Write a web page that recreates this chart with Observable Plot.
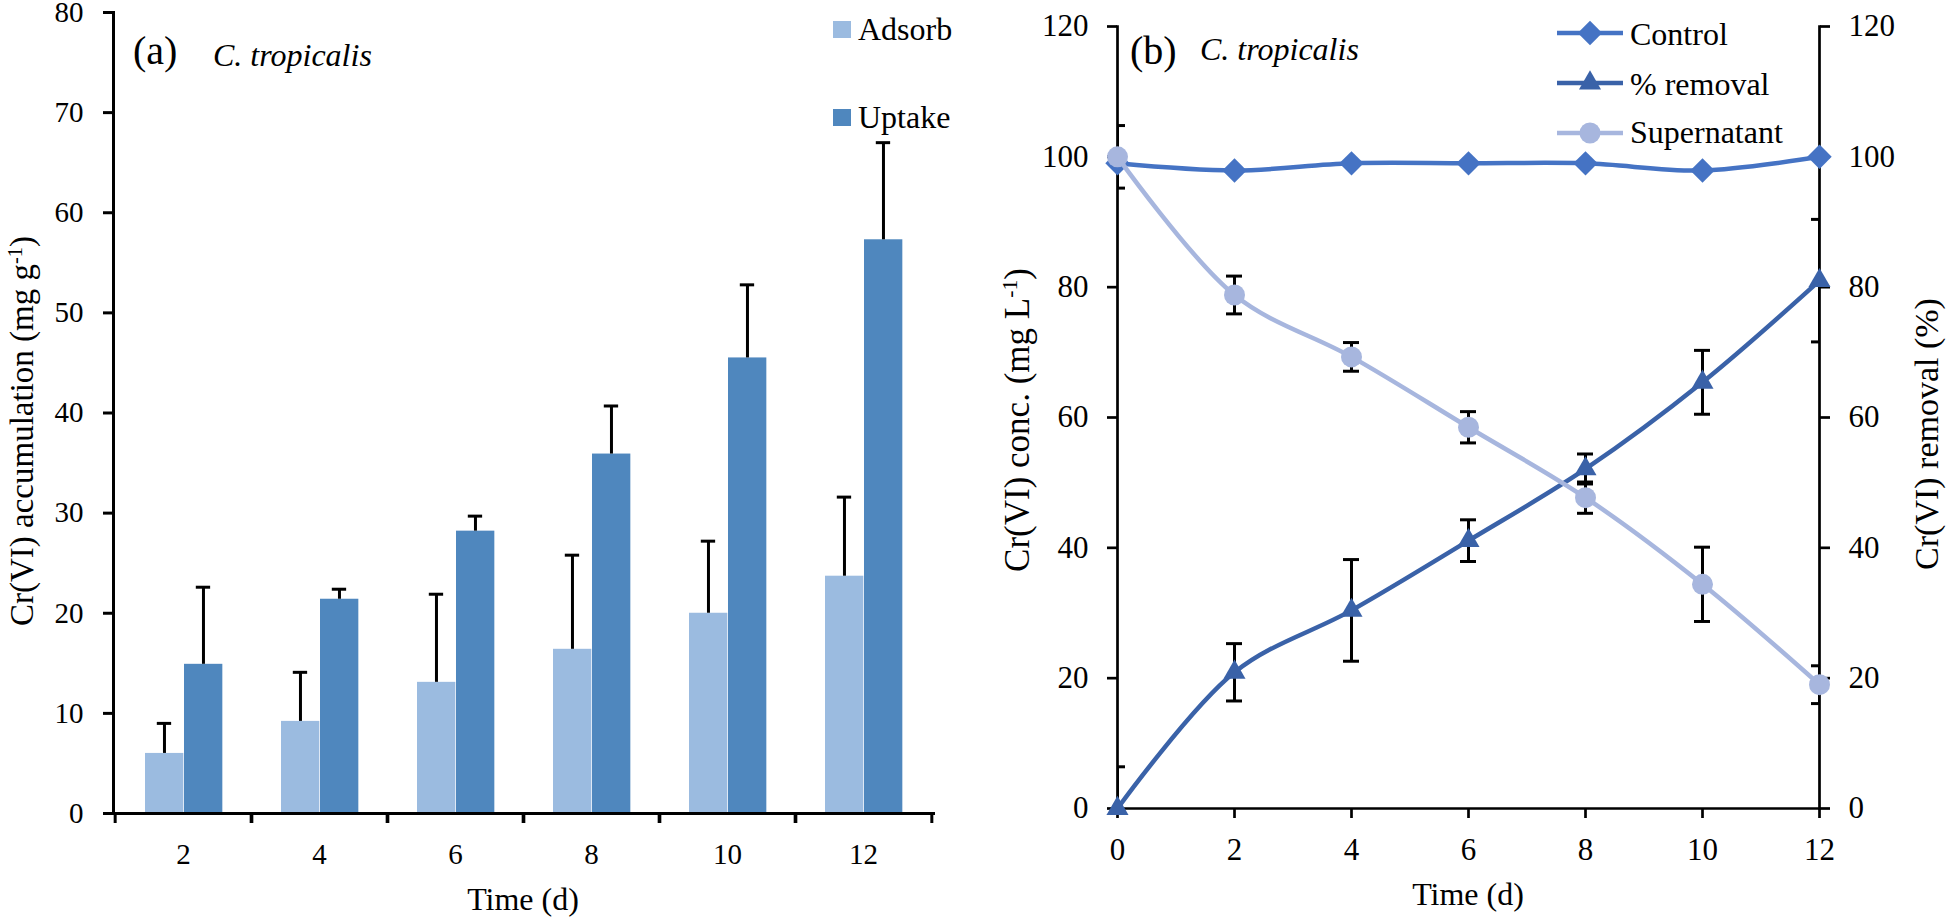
<!DOCTYPE html>
<html><head><meta charset="utf-8">
<script src="https://cdn.jsdelivr.net/npm/d3@7"></script>
<script src="https://cdn.jsdelivr.net/npm/@observablehq/plot@0.6"></script>
<style>
body{margin:0;background:#fff;}
#wrap{position:relative;width:1946px;height:919px;font-family:"Liberation Serif","Times New Roman",serif;}
#wrap svg{position:absolute;top:0;}
</style></head><body><div id="wrap"></div>
<script>
// ---- Panel (a) data ----
const days = [2, 4, 6, 8, 10, 12];
const adsorb = [6.0, 9.2, 13.1, 16.4, 20.0, 23.7];
const adsorbErr = [3.0, 4.9, 8.8, 9.4, 7.2, 7.9];
const uptake = [14.9, 21.4, 28.2, 35.9, 45.5, 57.3];
const uptakeErr = [7.7, 1.0, 1.5, 4.8, 7.3, 9.7];
const yTicksA = [0, 10, 20, 30, 40, 50, 60, 70, 80];

// ---- Panel (b) data ----
const times = [0, 2, 4, 6, 8, 10, 12];
const control = [99.0, 97.9, 99.0, 99.0, 99.0, 97.9, 100.0];
const supernatant = [100.0, 78.8, 69.3, 58.5, 47.7, 34.4, 19.0];
const supernatantErr = [4.8, 2.9, 2.2, 2.4, 2.4, 5.7, 2.9];
const removal = [0, 20.9, 30.4, 41.1, 52.1, 65.4, 81.0];
const removalErr = [6.4, 4.4, 7.8, 3.2, 2.3, 4.9, 9.4];
const xTicksB = [0, 2, 4, 6, 8, 10, 12];
const yTicksB = [0, 20, 40, 60, 80, 100, 120];

const C_ADS = "#9bbbe0", C_UPT = "#4f87be";
const C_CTRL = "#4573c4", C_REM = "#3a62a8", C_SUP = "#a7b6de";
const FONT = "Liberation Serif, Times New Roman, serif";

const wrap = document.getElementById("wrap");

// ---------- Panel (a) ----------
const aRows = days.map((d, i) => ({day: d, adsorb: adsorb[i], adsorbErr: adsorbErr[i], uptake: uptake[i], uptakeErr: uptakeErr[i]}));
const WA = 990, mlA = 113, mrA = 57;
const bw = (WA - mlA - mrA) / days.length;
const half = bw / 2;
const plotA = Plot.plot({
  width: WA, height: 919,
  marginLeft: mlA, marginRight: mrA, marginTop: 12, marginBottom: 106,
  style: {fontFamily: FONT, fontSize: "29px", color: "#000", background: "transparent", overflow: "visible"},
  x: {type: "band", domain: days, padding: 0, label: null},
  y: {domain: [0, 80], label: null},
  marks: [
    Plot.barY(aRows, {x: "day", y: "adsorb", fill: C_ADS, insetLeft: 30, insetRight: bw - 69}),
    Plot.barY(aRows, {x: "day", y: "uptake", fill: C_UPT, insetLeft: 69, insetRight: bw - 108}),
    Plot.ruleX(aRows, {x: "day", y1: "adsorb", y2: d => d.adsorb + d.adsorbErr, dx: 49.3 - half, stroke: "#000", strokeWidth: 3}),
    Plot.tickY(aRows, {x: "day", y: d => d.adsorb + d.adsorbErr, insetLeft: 49.3 - 7.5, insetRight: bw - 49.3 - 7.5, stroke: "#000", strokeWidth: 3}),
    Plot.ruleX(aRows, {x: "day", y1: "uptake", y2: d => d.uptake + d.uptakeErr, dx: 88.3 - half, stroke: "#000", strokeWidth: 3}),
    Plot.tickY(aRows, {x: "day", y: d => d.uptake + d.uptakeErr, insetLeft: 88.3 - 7.5, insetRight: bw - 88.3 - 7.5, stroke: "#000", strokeWidth: 3}),
    Plot.frame({anchor: "left", strokeWidth: 3}),
    Plot.frame({anchor: "bottom", strokeWidth: 3}),
    Plot.axisY({ticks: yTicksA, tickSize: 10, tickPadding: 20, strokeWidth: 3, label: null}),
    Plot.axisX({tickSize: 10, tickFormat: () => "", dx: -half, strokeWidth: 3, label: null}),
    Plot.axisX({tickSize: 10, tickFormat: () => "", dx: half, strokeWidth: 3, label: null}),
    Plot.axisX({tickSize: 0, tickPadding: 30, label: null})
  ]
});
plotA.style.left = "0px";
wrap.appendChild(plotA);

// ---------- Panel (b) ----------
const bRows = times.map((t, i) => ({t, control: control[i], sup: supernatant[i], supErr: supernatantErr[i], rem: removal[i], remErr: removalErr[i]}));
const plotB = Plot.plot({
  width: 956, height: 919,
  marginLeft: 127, marginRight: 127, marginTop: 26, marginBottom: 111,
  style: {fontFamily: FONT, fontSize: "31px", color: "#000", background: "transparent", overflow: "visible"},
  x: {domain: [0, 12], label: null},
  y: {domain: [0, 120], label: null},
  marks: [
    Plot.frame({anchor: "left", strokeWidth: 2.7}),
    Plot.frame({anchor: "right", strokeWidth: 2.7}),
    Plot.frame({anchor: "bottom", strokeWidth: 2.7}),
    Plot.axisX({ticks: xTicksB, tickSize: 10, tickPadding: 19, strokeWidth: 2.7, label: null}),
    Plot.axisY({anchor: "left", ticks: yTicksB, tickSize: 10, tickPadding: 19, strokeWidth: 2.7, label: null}),
    Plot.axisY({anchor: "right", ticks: yTicksB, tickSize: 10, tickPadding: 19, strokeWidth: 2.7, label: null}),
    // error bars
    Plot.ruleX(bRows, {x: "t", y1: d => d.rem - d.remErr, y2: d => d.rem + d.remErr, stroke: "#000", strokeWidth: 3, clip: true}),
    Plot.ruleY(bRows, {x1: "t", x2: "t", y: d => d.rem - d.remErr, insetLeft: -8, insetRight: -8, stroke: "#000", strokeWidth: 3, clip: true}),
    Plot.ruleY(bRows, {x1: "t", x2: "t", y: d => d.rem + d.remErr, insetLeft: -8, insetRight: -8, stroke: "#000", strokeWidth: 3, clip: true}),
    Plot.ruleX(bRows, {x: "t", y1: d => d.sup - d.supErr, y2: d => d.sup + d.supErr, stroke: "#000", strokeWidth: 3, clip: true}),
    Plot.ruleY(bRows, {x1: "t", x2: "t", y: d => d.sup - d.supErr, insetLeft: -8, insetRight: -8, stroke: "#000", strokeWidth: 3, clip: true}),
    Plot.ruleY(bRows, {x1: "t", x2: "t", y: d => d.sup + d.supErr, insetLeft: -8, insetRight: -8, stroke: "#000", strokeWidth: 3, clip: true}),
    // series
    Plot.line(bRows, {x: "t", y: "control", stroke: C_CTRL, strokeWidth: 4.5, curve: "catmull-rom"}),
    Plot.dot(bRows, {x: "t", y: "control", symbol: "diamond2", r: 11, fill: C_CTRL}),
    Plot.line(bRows, {x: "t", y: "rem", stroke: C_REM, strokeWidth: 4.5, curve: "catmull-rom"}),
    Plot.dot(bRows, {x: "t", y: "rem", symbol: "triangle", r: 8.2, fill: C_REM}),
    Plot.line(bRows, {x: "t", y: "sup", stroke: C_SUP, strokeWidth: 4.5, curve: "catmull-rom"}),
    Plot.dot(bRows, {x: "t", y: "sup", symbol: "circle", r: 10.5, fill: C_SUP})
  ]
});
plotB.style.left = "990px";
wrap.appendChild(plotB);

// ---------- Overlay texts & legends ----------
const ov = d3.select(wrap).append("svg")
  .attr("width", 1946).attr("height", 919)
  .style("left", "0px").style("pointer-events", "none")
  .attr("font-family", FONT).attr("fill", "#000");

function txt(x, y, s, size, opts = {}) {
  const t = ov.append("text").attr("x", x).attr("y", y).attr("font-size", size).text(s);
  if (opts.anchor) t.attr("text-anchor", opts.anchor);
  if (opts.italic) t.attr("font-style", "italic");
  return t;
}
function rotLabel(x, y, main, sup, tail, size) {
  const t = ov.append("text").attr("transform", `translate(${x},${y}) rotate(-90)`)
    .attr("text-anchor", "middle").attr("font-size", size);
  t.append("tspan").text(main);
  if (sup) {
    t.append("tspan").attr("font-size", size * 0.62).attr("dy", -size * 0.34).text(sup);
    t.append("tspan").attr("dy", size * 0.34).text(tail);
  }
  return t;
}

// panel titles
txt(133, 64, "(a)", 40);
txt(213, 66, "C. tropicalis", 32, {italic: true});
txt(1130, 64, "(b)", 40);
txt(1200, 60, "C. tropicalis", 32, {italic: true});

// axis titles
txt(523, 910, "Time (d)", 32, {anchor: "middle"});
txt(1468, 905, "Time (d)", 32, {anchor: "middle"});
rotLabel(33, 431, "Cr(VI) accumulation (mg g", "-1", ")", 33);
rotLabel(1029, 420, "Cr(VI) conc. (mg L", "-1", ")", 35);
rotLabel(1938, 434, "Cr(VI) removal (%)", null, null, 34);

// legend (a)
ov.append("rect").attr("x", 833).attr("y", 21).attr("width", 18).attr("height", 17).attr("fill", C_ADS);
txt(858, 40, "Adsorb", 32);
ov.append("rect").attr("x", 833).attr("y", 109).attr("width", 18).attr("height", 17).attr("fill", C_UPT);
txt(858, 128, "Uptake", 32);

// legend (b)
const legB = [
  {name: "Control", color: C_CTRL, sym: d3.symbolDiamond2, r: 11, y: 33, base: 45},
  {name: "% removal", color: C_REM, sym: d3.symbolTriangle, r: 8.2, y: 83, base: 95},
  {name: "Supernatant", color: C_SUP, sym: d3.symbolCircle, r: 10.5, y: 133, base: 143}
];
legB.forEach(l => {
  ov.append("line").attr("x1", 1557).attr("x2", 1623).attr("y1", l.y).attr("y2", l.y)
    .attr("stroke", l.color).attr("stroke-width", 4.5);
  ov.append("path").attr("d", d3.symbol(l.sym, Math.PI * l.r * l.r)())
    .attr("transform", `translate(1590,${l.y})`).attr("fill", l.color);
  txt(1630, l.base, l.name, 32);
});
</script></body></html>
